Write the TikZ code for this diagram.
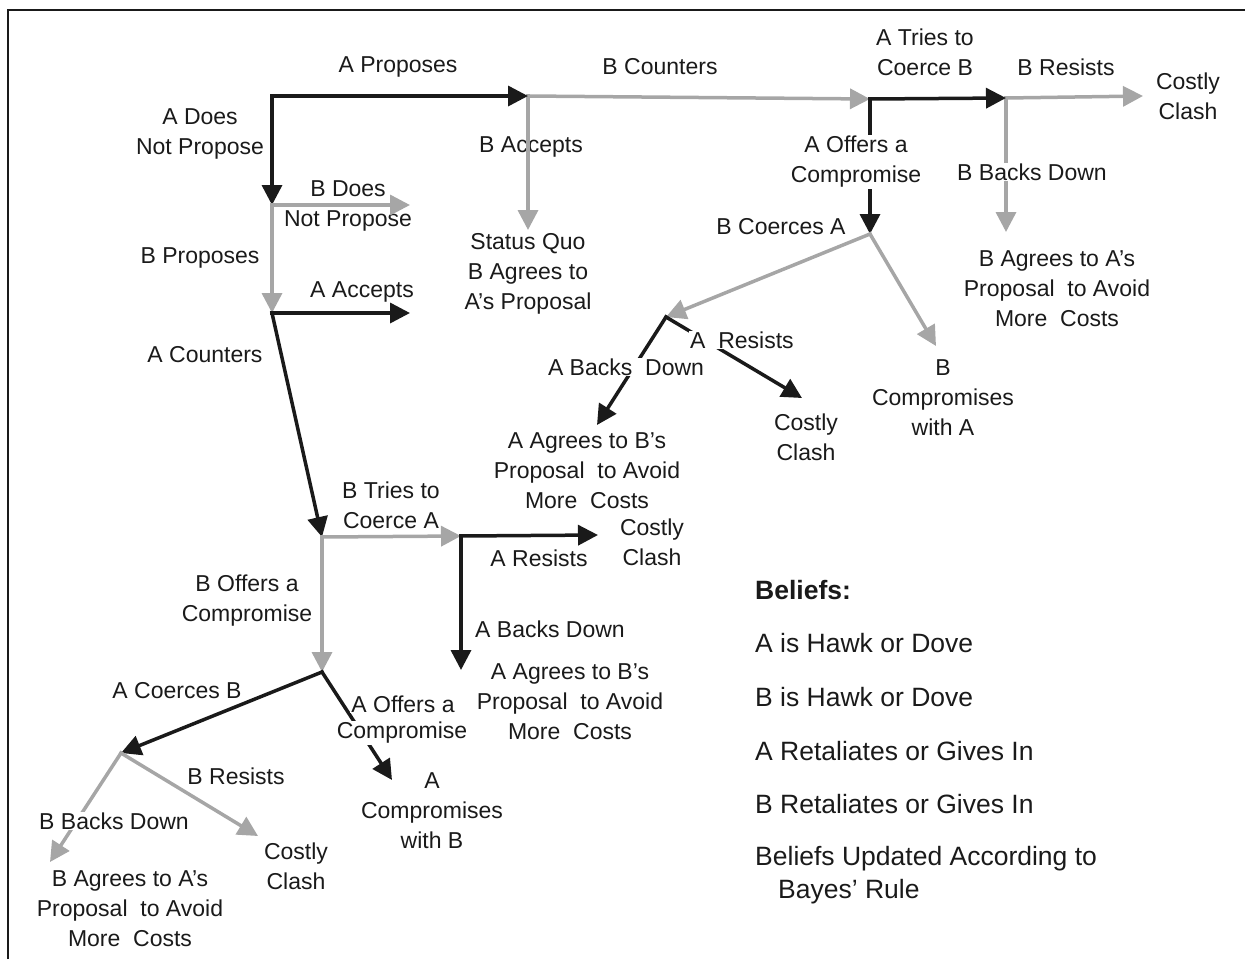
\documentclass[tikz,border=0pt]{standalone}
\usepackage{fontspec}
\setmainfont{Liberation Sans}
\usetikzlibrary{arrows.meta}
\definecolor{dk}{HTML}{1A1A1A}
\definecolor{lt}{HTML}{A6A6A6}
\begin{document}
\begin{tikzpicture}[x=1pt,y=-1pt,
  tip/.style={-{Triangle[length=20pt,width=20pt]}},
  blk/.style={draw=dk,line width=3.5pt,line cap=rect,tip},
  gry/.style={draw=lt,line width=3.5pt,line cap=rect,tip},
  lbl/.style={font=\fontsize{23}{30}\selectfont,align=center,inner sep=1pt,text=dk},
  wlbl/.style={lbl,fill=white},
  bel/.style={font=\fontsize{26.5}{33}\selectfont,anchor=west,inner sep=0pt,text=dk}]
\useasboundingbox (0,0) rectangle (1245,959);
\draw[line width=2pt,dk] (8,959) -- (8,10) -- (1245,10);

% branch points and arrow ends
\coordinate (R0) at (272,96);
\coordinate (P) at (528,96);
\coordinate (N1) at (272,205);
\coordinate (N2) at (272,313);
\coordinate (e1) at (410,205);
\coordinate (e2) at (410,313);
\coordinate (sq) at (528,230);
\coordinate (Q) at (870,99);
\coordinate (S) at (1006,98);
\coordinate (e3) at (1143,96);
\coordinate (e4) at (1006,232);
\coordinate (T) at (870,234);
\coordinate (U) at (666,317);
\coordinate (e5) at (936,346);
\coordinate (e6) at (802,398);
\coordinate (e7) at (597,425);
\coordinate (V) at (322,537);
\coordinate (W) at (461,536);
\coordinate (e8) at (598,535);
\coordinate (e12) at (461,670);
\coordinate (X) at (322,672);
\coordinate (e9) at (392,780);
\coordinate (Y) at (121,753);
\coordinate (e10) at (50,862);
\coordinate (e11) at (258,836);

% labels drawn under lines
\node[lbl] (lBA) at (531,147) {B Accepts};
\node[lbl] (lBDNP) at (348,206) {B Does\\Not Propose};

% connectors
\draw[gry] (P) -- (sq);
\draw[gry] (P) -- (Q);
\draw[blk] (R0) -- (P);
\draw[blk] (R0) -- (N1);
\draw[gry] (N1) -- (e1);
\draw[gry] (N1) -- (N2);
\draw[blk] (N2) -- (e2);
\draw[blk] (N2) -- (V);
\draw[gry] (S) -- (e3);
\draw[gry] (S) -- (e4);
\draw[blk] (Q) -- (S);
\draw[blk] (Q) -- (T);
\draw[gry] (T) -- (U);
\draw[gry] (T) -- (e5);
\draw[blk] (U) -- (e6);
\draw[blk] (U) -- (e7);
\draw[gry] (V) -- (W);
\draw[gry] (V) -- (X);
\draw[blk] (W) -- (e8);
\draw[blk] (W) -- (e12);
\draw[blk] (X) -- (Y);
\draw[blk] (X) -- (e9);
\draw[gry] (Y) -- (e10);
\draw[gry] (Y) -- (e11);

% labels
\node[lbl] (lAP) at (398,67) {A Proposes};
\node[lbl] (lBC) at (660,67) {B Counters};
\node[lbl] (lATC) at (925,52) {A Tries to\\Coerce B};
\node[lbl] (lBR) at (1066,67) {B Resists};
\node[lbl] (oCC1) at (1188,96) {Costly\\Clash};
\node[lbl] (lADNP) at (200,134) {A Does\\Not Propose};
\node[lbl] (oSQ) at (528,274) {Status Quo\\B Agrees to\\A’s Proposal};
\node[wlbl] (lAOC) at (856,162) {A Offers a\\Compromise};
\node[wlbl] (lBBD) at (1032,172) {B Backs Down};
\node[lbl] (lBCA) at (781,227) {B Coerces A};
\node[lbl] (oBAA) at (1057,289) {B Agrees to A’s\\Proposal\ \ to Avoid\\More\ \ Costs};
\node[lbl] (lBP) at (200,258) {B Proposes};
\node[lbl] (lAA) at (362,292) {A Accepts};
\node[lbl] (lAC) at (205,355) {A Counters};
\node[wlbl] (lAR1) at (742,340) {A\ \ Resists};
\node[wlbl] (lABD1) at (626,367) {A Backs\ \ Down};
\node[lbl] (oCC2) at (806,437) {Costly\\Clash};
\node[lbl] (oBCw) at (943,398) {B\\Compromises\\with A};
\node[lbl] (oAAB1) at (587,471) {A Agrees to B’s\\Proposal\ \ to Avoid\\More\ \ Costs};
\node[lbl] (lBTC) at (391,505) {B Tries to\\Coerce A};
\node[lbl] (oCC3) at (652,542) {Costly\\Clash};
\node[lbl] (lAR2) at (539,558) {A Resists};
\node[lbl] (lBOC) at (247,601) {B Offers a\\Compromise};
\node[lbl] (lABD2) at (550,629) {A Backs Down};
\node[lbl] (oAAB2) at (570,702) {A Agrees to B’s\\Proposal\ \ to Avoid\\More\ \ Costs};
\node[lbl] (lACB) at (177,691) {A Coerces B};
\node[wlbl] (lAOC2a) at (403,704) {A Offers a};
\node[wlbl] (lAOC2b) at (402,733) {Compromise};
\node[lbl] (oACw) at (432,811) {A\\Compromises\\with B};
\node[lbl] (lBR2) at (236,776) {B Resists};
\node[wlbl] (lBBD2) at (114,821) {B Backs Down};
\node[lbl] (oCC4) at (296,866) {Costly\\Clash};
\node[lbl] (oBAA2) at (130,909) {B Agrees to A’s\\Proposal\ \ to Avoid\\More\ \ Costs};

% beliefs
\node[bel,font=\bfseries\fontsize{26.5}{33}\selectfont] (b0) at (755,590) {Beliefs:};
\node[bel] (b1) at (755,643) {A is Hawk or Dove};
\node[bel] (b2) at (755,697) {B is Hawk or Dove};
\node[bel] (b3) at (755,751) {A Retaliates or Gives In};
\node[bel] (b4) at (755,804) {B Retaliates or Gives In};
\node[bel] (b5) at (755,859) {Beliefs Updated According to};
\node[bel] (b6) at (778,892) {Bayes’ Rule};
\end{tikzpicture}
\end{document}
